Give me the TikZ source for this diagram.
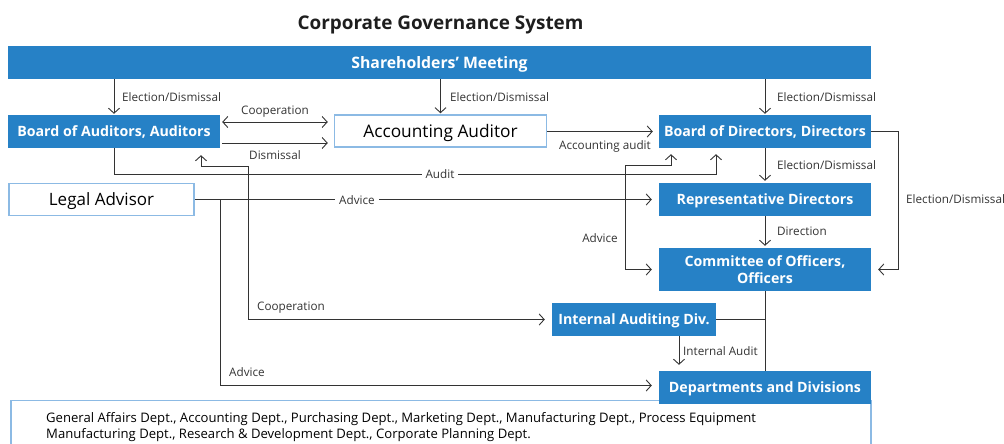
\documentclass[tikz,border=0pt]{standalone}
\usepackage{fontspec}
\setmainfont{Open Sans}
\usetikzlibrary{arrows.meta}
\definecolor{cblue}{RGB}{38,129,198}
\definecolor{lblue}{RGB}{140,186,228}
\definecolor{ln}{RGB}{51,51,51}
\begin{document}
\begin{tikzpicture}[x=1pt,y=-1pt,
 >={Straight Barb[length=5pt,width=11pt,line width=0.9pt]},
 bluebox/.style={fill=cblue,text=white,font=\bfseries\fontsize{14.2}{17.6}\selectfont,inner sep=0pt,align=center,minimum width=212pt,minimum height=33pt,text height=10.1pt,text depth=0pt},
 whitebox/.style={draw=lblue,line width=1.5pt,fill=white,text=black,font=\fontsize{17.3}{20}\selectfont,inner sep=0pt,minimum height=32pt,text height=12.3pt,text depth=0pt},
 lbl/.style={font=\fontsize{11.7}{14}\selectfont,text=ln,inner sep=1pt},
 gap/.style={lbl,fill=white,inner sep=4pt},
 conn/.style={draw=ln,line width=0.9pt},
 arr/.style={conn,->},
 darr/.style={conn,<->},
]
\useasboundingbox (0,0) rectangle (1004,444);
% title
\node[font=\bfseries\fontsize{18.9}{22}\selectfont,text={rgb,255:red,30;green,30;blue,30},anchor=base,inner sep=0pt] (title) at (440.5,29.3) {Corporate Governance System};
% bottom list box
\node[draw=lblue,line width=1.5pt,fill=white,anchor=north west,minimum width=860pt,minimum height=70pt,inner sep=0pt] (listbox) at (10,399.7) {};
\node[anchor=base west,align=left,font=\fontsize{13.1}{15.7}\selectfont,text=black,inner sep=0pt] (list) at (46,438.3) {General Affairs Dept., Accounting Dept., Purchasing Dept., Marketing Dept., Manufacturing Dept., Process Equipment\\Manufacturing Dept., Research \& Development Dept., Corporate Planning Dept.};
% nodes
\node[bluebox,minimum width=863pt,font=\bfseries\fontsize{15.8}{18}\selectfont,text height=11.3pt] (SM) at (439.5,62.5) {Shareholders’ Meeting};
\node[bluebox] (BA) at (114,131.5) {Board of Auditors, Auditors};
\node[whitebox,minimum width=212pt] (AA) at (440.5,131) {Accounting Auditor};
\node[bluebox] (BD) at (765,131.5) {Board of Directors, Directors};
\node[bluebox] (RD) at (765,199.5) {Representative Directors};
\node[bluebox,minimum height=43pt,text height=,text depth=] (CO) at (765,269.5) {Committee of Officers,\\Officers};
\node[whitebox,minimum width=185pt,font=\fontsize{17}{20}\selectfont] (LA) at (101.5,199.5) {Legal Advisor};
\node[bluebox,minimum width=164pt] (IA) at (634,319.5) {Internal Auditing Div.};
\node[bluebox] (DD) at (765,387.5) {Departments and Divisions};
% shareholders arrows
\draw[arr] (SM.south -| BA.south) -- ([yshift=1pt]BA.north);
\draw[arr] (SM.south -| AA.south) -- ([yshift=1pt]AA.north);
\draw[arr] (SM.south -| BD.south) -- ([yshift=1pt]BD.north);
\node[lbl,anchor=west] (l1) at (121,97) {Election/Dismissal};
\node[lbl,anchor=west] (l2) at (449,97) {Election/Dismissal};
\node[lbl,anchor=west] (l3) at (776,97) {Election/Dismissal};
% auditors - accounting auditor
\draw[darr] ([shift={(2,-9.5)}]BA.east) -- ([shift={(-6,-9)}]AA.west);
\node[lbl] (lcoop) at (275,112) {Cooperation};
\draw[arr] ([shift={(2,11.5)}]BA.east) -- ([shift={(-6,12)}]AA.west);
\node[lbl] (ldis) at (275,155) {Dismissal};
% accounting audit
\draw[arr] ([yshift=-0.5pt]AA.east) -- ([xshift=-6pt]BD.west);
\node[lbl,anchor=east] (lacc) at (652,146) {Accounting audit};
% audit
\draw[arr] (BA.south) -- ++(0,26) -| ([shift={(-49,6)}]BD.south);
\node[gap] (laudit) at (440,174) {Audit};
% cooperation to internal auditing
\draw[darr] ([shift={(87,7)}]BA.south) -- ++(0,11) -- ++(47,0) |- ([xshift=-7pt]IA.west);
\node[lbl,anchor=west] (lcoop2) at (256,308) {Cooperation};
% legal advisor advice
\draw[arr] (LA.east) -- ([xshift=-7pt]RD.west);
\draw[arr] ([xshift=26pt]LA.east) |- ([shift={(-7,-2)}]DD.west);
\node[lbl,anchor=west] (ladv2) at (228,372) {Advice};
\draw[arr] ([xshift=431pt]LA.east) -- ++(0,-34) -| ([shift={(-94,6)}]BD.south);
\draw[arr] ([xshift=431pt]LA.east) |- ([xshift=-7pt]CO.west);
\node[gap] (ladv) at (357,200) {Advice};
\node[lbl,anchor=east] (ladv3) at (619,238) {Advice};
% directors chain
\draw[arr] (BD.south) -- ([yshift=2pt]RD.north);
\node[lbl,anchor=west] (l4) at (776,165) {Election/Dismissal};
\draw[arr] (RD.south) -- ([yshift=2pt]CO.north);
\node[lbl,anchor=west] (l5) at (776,231) {Direction};
\draw[arr] (BD.east) -- ++(27,0) |- ([xshift=7pt]CO.east);
\node[lbl,anchor=west] (l6) at (905,199) {Election/Dismissal};
% officers to departments
\draw[conn] (CO.south) -- (DD.north);
\draw[conn] (IA.east) -- (IA.east -| CO.south);
\draw[arr] ([xshift=45pt]IA.south) -- ([shift={(-86,-6)}]DD.north);
\node[lbl,anchor=west] (l7) at (682,351) {Internal Audit};
\end{tikzpicture}
\end{document}
